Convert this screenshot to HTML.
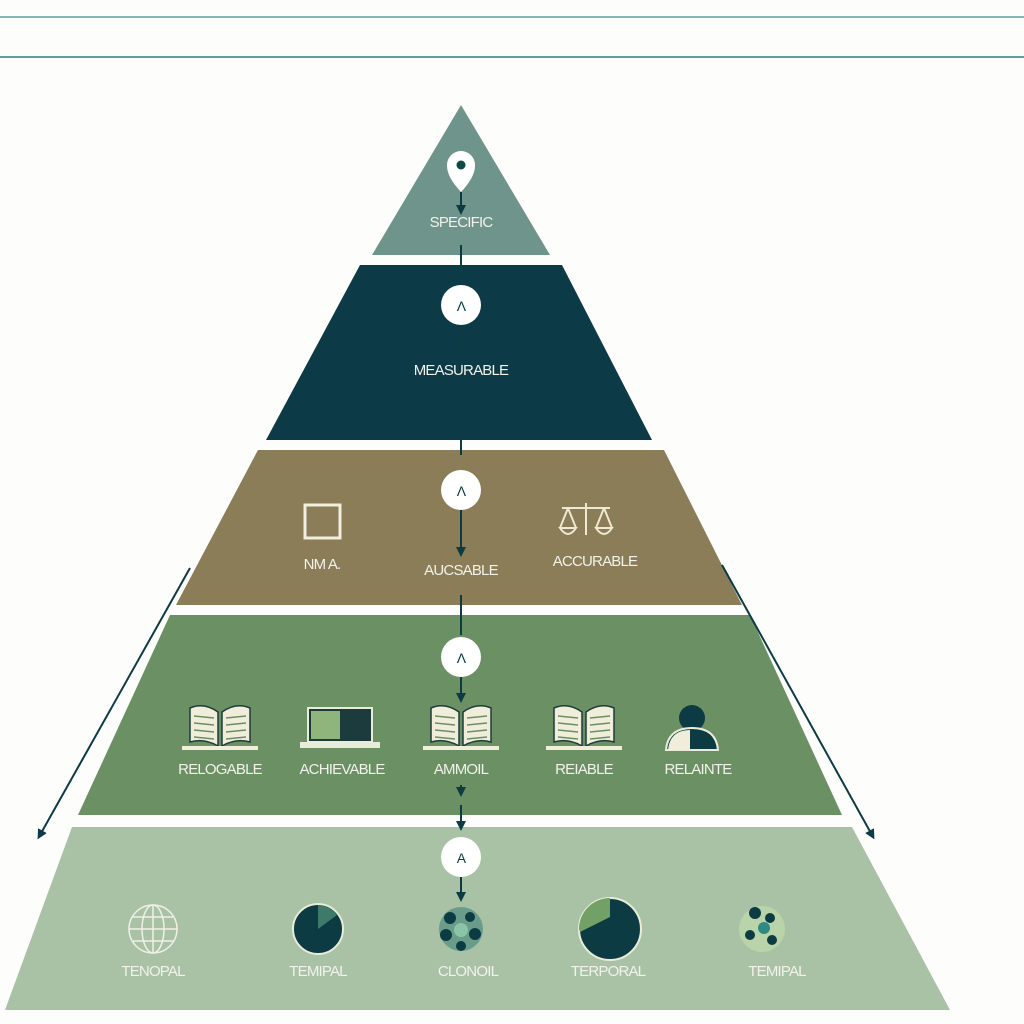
<!DOCTYPE html>
<html><head><style>
html,body{margin:0;padding:0;background:#fdfdfc;}
svg{display:block}
text{font-family:"Liberation Sans",sans-serif;fill:#f2f2ea;text-anchor:middle;letter-spacing:-0.8px}
</style></head><body>
<svg width="1024" height="1024" viewBox="0 0 1024 1024" xmlns="http://www.w3.org/2000/svg">
<defs>
<marker id="ah" markerUnits="userSpaceOnUse" markerWidth="10" markerHeight="10" refX="5" refY="5" orient="auto"><path d="M0,0 L10,5 L0,10 z" fill="#0d3b44"/></marker>
<g id="book">
<path d="M-30,-20 Q-16,-26 -2,-16 L-2,18 Q-16,10 -30,14 Z" fill="#f0eedb" stroke="#1c3b3c" stroke-width="1.5"/>
<path d="M30,-20 Q16,-26 2,-16 L2,18 Q16,10 30,14 Z" fill="#f0eedb" stroke="#1c3b3c" stroke-width="1.5"/>
<g stroke="#6a8f62" stroke-width="1.5"><line x1="-26" y1="-12" x2="-6" y2="-10"/><line x1="-26" y1="-5" x2="-6" y2="-3"/><line x1="-26" y1="2" x2="-6" y2="4"/><line x1="-26" y1="9" x2="-6" y2="11"/><line x1="26" y1="-12" x2="6" y2="-10"/><line x1="26" y1="-5" x2="6" y2="-3"/><line x1="26" y1="2" x2="6" y2="4"/><line x1="26" y1="9" x2="6" y2="11"/></g>
<rect x="-38" y="18" width="76" height="4" fill="#f0eedb"/>
</g>
</defs>
<line x1="0" y1="17" x2="1024" y2="17" stroke="#5f9ea0" stroke-width="1.5"/>
<line x1="0" y1="57" x2="1024" y2="57" stroke="#5f9ea0" stroke-width="2"/>

<polygon points="461,105 550,255 372,255" fill="#6f948c"/>
<polygon points="360,265 562,265 652,440 266,440" fill="#0c3a47"/>
<polygon points="258,450 664,450 742,605 176,605" fill="#8a7d57"/>
<polygon points="170,615 750,615 842,815 78,815" fill="#6a9064"/>
<polygon points="72,827 852,827 950,1010 5,1010" fill="#a9c2a6"/>

<line x1="190" y1="568" x2="40" y2="835" stroke="#0d3b44" stroke-width="2" marker-end="url(#ah)"/>
<line x1="722" y1="565" x2="872" y2="835" stroke="#0d3b44" stroke-width="2" marker-end="url(#ah)"/>

<g stroke="#0d3b44" stroke-width="2">
<line x1="461" y1="192" x2="461" y2="210" marker-end="url(#ah)"/>
<line x1="461" y1="245" x2="461" y2="270"/>
<line x1="461" y1="330" x2="461" y2="345" marker-end="url(#ah)"/>
<line x1="461" y1="440" x2="461" y2="455"/>
<line x1="461" y1="510" x2="461" y2="552" marker-end="url(#ah)"/>
<line x1="461" y1="595" x2="461" y2="635"/>
<line x1="461" y1="677" x2="461" y2="698" marker-end="url(#ah)"/>
<line x1="461" y1="785" x2="461" y2="792" marker-end="url(#ah)"/>
<line x1="461" y1="805" x2="461" y2="826" marker-end="url(#ah)"/>
<line x1="461" y1="877" x2="461" y2="897" marker-end="url(#ah)"/>
</g>

<path d="M461,192 C448,178 447,170 447,165 A14,14 0 1 1 475,165 C475,170 474,178 461,192 Z" fill="#fff"/>
<circle cx="461" cy="165" r="4.5" fill="#0d4a48"/>
<text x="461" y="227" font-size="15">SPECIFIC</text>

<circle cx="461" cy="305" r="20" fill="#fff"/><text x="461" y="311" font-size="14" style="fill:#0d3b44">Λ</text>
<text x="461" y="375" font-size="15">MEASURABLE</text>

<circle cx="461" cy="490" r="20" fill="#fff"/><text x="461" y="496" font-size="14" style="fill:#0d3b44">Λ</text>
<rect x="305" y="505" width="35" height="33" fill="none" stroke="#f2efe0" stroke-width="3"/>
<text x="322" y="569" font-size="15">NM A.</text>
<text x="461" y="575" font-size="15">AUCSABLE</text>
<g stroke="#efe9d2" stroke-width="2" fill="none">
<line x1="562" y1="508" x2="610" y2="508"/><line x1="586" y1="503" x2="586" y2="535"/>
<path d="M568,508 L560,528 M568,508 L576,528 M560,528 Q568,540 576,528 Z"/>
<path d="M604,508 L596,528 M604,508 L612,528 M596,528 Q604,540 612,528 Z"/>
</g>
<text x="595" y="566" font-size="15">ACCURABLE</text>

<circle cx="461" cy="657" r="20" fill="#fff"/><text x="461" y="663" font-size="14" style="fill:#0d3b44">Λ</text>
<use href="#book" x="220" y="728"/>
<g>
<rect x="308" y="708" width="64" height="34" fill="#1c3b3c" stroke="#e8ecd8" stroke-width="2"/>
<rect x="311" y="711" width="29" height="28" fill="#8fb47c"/>
<rect x="300" y="742" width="80" height="6" fill="#e8ecd8"/>
</g>
<use href="#book" x="461" y="728"/>
<use href="#book" x="584" y="728"/>
<g>
<circle cx="692" cy="718" r="13" fill="#0d3b44"/>
<path d="M666,750 Q668,728 692,728 Q716,728 718,750 Z" fill="#0d3b44" stroke="#e8ecd8" stroke-width="2"/>
<path d="M668,750 Q670,730 690,730 L690,750 Z" fill="#f0eedb"/>
</g>
<text x="220" y="774" font-size="15">RELOGABLE</text>
<text x="342" y="774" font-size="15">ACHIEVABLE</text>
<text x="461" y="774" font-size="15">AMMOIL</text>
<text x="584" y="774" font-size="15">REIABLE</text>
<text x="698" y="774" font-size="15">RELAINTE</text>

<circle cx="461" cy="857" r="20" fill="#fff"/><text x="461" y="863" font-size="14" style="fill:#0d3b44">A</text>
<g stroke="#f0f0e6" stroke-width="1.5" fill="none">
<circle cx="153" cy="929" r="24"/><ellipse cx="153" cy="929" rx="11" ry="24"/>
<line x1="129" y1="929" x2="177" y2="929"/><line x1="153" y1="905" x2="153" y2="953"/>
<line x1="133" y1="917" x2="173" y2="917"/><line x1="133" y1="941" x2="173" y2="941"/>
</g>
<circle cx="318" cy="929" r="25" fill="#0d3b44" stroke="#e8ecd8" stroke-width="2"/>
<path d="M318,929 L318,905 A24,24 0 0 1 337,915 Z" fill="#3e7a6a"/>
<circle cx="461" cy="929" r="22" fill="#6a9c8a"/>
<g fill="#0d3b44"><circle cx="450" cy="918" r="6"/><circle cx="470" cy="917" r="5"/><circle cx="446" cy="935" r="6"/><circle cx="475" cy="934" r="6"/><circle cx="461" cy="946" r="5"/></g>
<circle cx="461" cy="930" r="7" fill="#8cc4a8"/>
<circle cx="610" cy="929" r="31" fill="#0d3b44" stroke="#e8ecd8" stroke-width="2"/>
<path d="M579,929 A31,31 0 0 1 610,898 L610,917 L580,932 Z" fill="#72a066"/>
<circle cx="762" cy="929" r="23" fill="#b8d4a8"/>
<g fill="#0d3b44"><circle cx="755" cy="913" r="6"/><circle cx="770" cy="918" r="5"/><circle cx="750" cy="935" r="5"/><circle cx="772" cy="940" r="5"/></g>
<circle cx="764" cy="928" r="6" fill="#2e8a84"/>
<text x="153" y="976" font-size="15">TENOPAL</text>
<text x="318" y="976" font-size="15">TEMIPAL</text>
<text x="468" y="976" font-size="15">CLONOIL</text>
<text x="608" y="976" font-size="15">TERPORAL</text>
<text x="777" y="976" font-size="15">TEMIPAL</text>
</svg>
</body></html>
